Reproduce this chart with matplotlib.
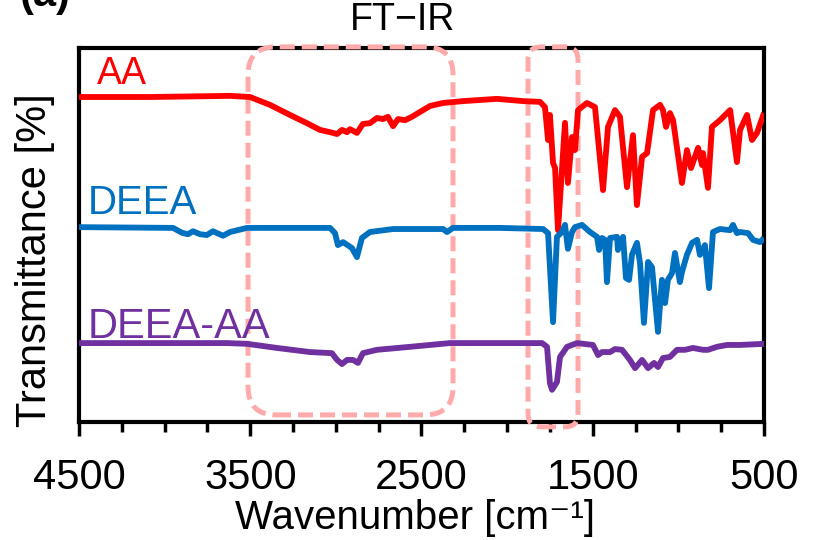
import matplotlib
matplotlib.use("Agg")
import matplotlib.pyplot as plt
from matplotlib.patches import FancyBboxPatch
from matplotlib.transforms import IdentityTransform
from matplotlib.ticker import MultipleLocator

plt.rcParams['font.family'] = ['Liberation Sans', 'DejaVu Sans']

# ---- data ----
aa_wn = [4500, 4085, 3618, 3502, 3385, 3268, 3169, 3093, 3034, 2993, 2964, 2935, 2918, 2877,
         2842, 2801, 2760, 2725, 2696, 2666, 2637, 2596, 2556, 2509, 2450, 2374, 2258, 2059,
         1907, 1808, 1779, 1761, 1750, 1732, 1720, 1703, 1662, 1645, 1621, 1604, 1586, 1534,
         1487, 1440, 1411, 1370, 1341, 1300, 1265, 1242, 1212, 1183, 1148, 1107, 1090, 1072,
         1049, 1031, 979, 950, 926, 885, 862, 856, 827, 804, 757, 698, 658, 640, 599, 570,
         541, 500]
aa_t = [86.9, 86.9, 87.2, 86.9, 84.8, 82.1, 79.9, 78.1, 77.5, 77.0, 78.1, 77.5, 78.3, 77.3,
        79.7, 79.9, 81.3, 81.0, 81.6, 79.1, 81.0, 80.7, 81.6, 82.9, 84.5, 85.3, 85.8, 86.4,
        85.8, 85.6, 84.2, 75.4, 82.1, 69.3, 67.9, 51.3, 80.0, 63.9, 76.2, 72.7, 83.4, 85.3,
        84.2, 62.0, 78.9, 83.4, 81.6, 62.8, 76.7, 58.0, 70.9, 71.9, 83.4, 84.8, 83.4, 78.9,
        82.6, 80.7, 63.9, 72.7, 67.9, 73.3, 68.7, 71.9, 62.6, 78.9, 80.7, 83.4, 69.5, 78.1,
        82.1, 75.4, 77.3, 82.6]

deea_wn = [4500, 3951, 3899, 3864, 3834, 3793, 3753, 3718, 3659, 3618, 3519, 3034, 3005,
           2988, 2958, 2906, 2877, 2848, 2801, 2666, 2374, 2351, 2316, 2042, 1790, 1761,
           1732, 1709, 1680, 1662, 1645, 1621, 1604, 1563, 1516, 1475, 1463, 1446, 1428,
           1417, 1399, 1358, 1353, 1323, 1306, 1288, 1271, 1242, 1224, 1201, 1177, 1154,
           1119, 1096, 1078, 1061, 1037, 1020, 991, 979, 950, 920, 891, 874, 845, 821, 798,
           757, 698, 681, 658, 640, 593, 564, 523, 500]
deea_t = [52.1, 51.9, 50.6, 50.2, 51.0, 50.2, 50.0, 51.0, 49.8, 50.8, 51.9, 51.9, 50.5,
          47.3, 48.1, 46.5, 44.1, 49.2, 50.8, 51.6, 51.6, 50.8, 51.9, 51.9, 51.6, 50.5,
          26.7, 49.5, 50.8, 52.7, 46.3, 50.8, 52.1, 52.7, 50.8, 49.5, 46.0, 49.2, 48.7,
          37.4, 49.2, 49.5, 46.0, 49.5, 38.5, 38.0, 44.7, 47.9, 42.5, 26.5, 42.8, 41.4,
          24.1, 38.0, 31.8, 38.0, 39.8, 45.2, 37.4, 40.1, 44.7, 47.9, 48.7, 44.7, 47.3,
          35.8, 50.8, 51.6, 51.3, 52.7, 50.5, 50.8, 50.5, 48.7, 48.1, 49.2]

mix_wn = [4500, 3636, 3519, 3344, 3151, 3023, 2993, 2964, 2935, 2900, 2871, 2842, 2760,
          2567, 2334, 2042, 1796, 1767, 1750, 1738, 1709, 1691, 1650, 1592, 1499, 1469,
          1446, 1399, 1370, 1329, 1283, 1253, 1212, 1177, 1142, 1119, 1090, 1049, 1008,
          961, 915, 856, 827, 775, 716, 640, 500]
mix_t = [21.1, 21.1, 20.9, 19.8, 18.7, 18.4, 16.6, 15.5, 16.6, 16.6, 15.8, 18.4, 19.3,
         20.1, 21.1, 21.1, 21.1, 20.1, 10.4, 8.6, 10.7, 17.4, 20.1, 21.1, 20.6, 17.9,
         18.7, 18.7, 19.5, 19.3, 16.6, 14.4, 16.6, 14.4, 15.8, 14.7, 17.1, 17.4, 19.3,
         19.3, 19.8, 19.3, 19.3, 20.1, 20.6, 20.6, 20.9]

series_names = ["AA", "DEEA", "DEEA-AA"]
series_colors = ["#FF0000", "#0070C0", "#7030A0"]

x_ticks = [4500, 3500, 2500, 1500, 500]
x_ticklabels = ["4500", "3500", "2500", "1500", "500"]

# highlighted regions (wavenumber range, transmittance range)
boxes = [((3513, 2316), (100.3, 1.9), 28),
         ((1878, 1586), (100.3, -1.3), 13)]

# ---- figure ----
W, H = 818, 540
fig = plt.figure(figsize=(W / 100, H / 100), dpi=100)
ax = fig.add_axes([79 / W, 1 - 422 / H, 685 / W, 374 / H])

for wn, t, c in zip([aa_wn, deea_wn, mix_wn], [aa_t, deea_t, mix_t], series_colors):
    ax.plot(wn, t, color=c, lw=4.2, solid_joinstyle='round', solid_capstyle='butt', zorder=3)

ax.set_xlim(4500, 500)
ax.set_ylim(0, 100)
ax.set_xticks(x_ticks)
ax.set_xticklabels(x_ticklabels)
ax.xaxis.set_minor_locator(MultipleLocator(250))
ax.set_yticks([])
ax.tick_params(axis='x', which='major', direction='out', length=10, width=2.5,
               labelsize=30, pad=16)
ax.tick_params(axis='x', which='minor', direction='out', length=7, width=2.5)
for s in ax.spines.values():
    s.set_linewidth(3)
    s.set_zorder(2.5)

# labels
label_pos = [(4395, 90.5), (4450, 55.5), (4450, 22.5)]
label_sizes = [27, 29, 30]
for name, c, (xx, yy), fs in zip(series_names, series_colors, label_pos, label_sizes):
    ax.text(xx, yy, name, color=c, fontsize=fs, ha='left', va='baseline', zorder=4)

fig.text(403 / W, 1 - 20 / H, "FT\u2212IR", fontsize=27, ha='center', va='center')
fig.text(415 / W, 1 - 518 / H, "Wavenumber [cm\u207b\u00b9]", fontsize=29,
         ha='center', va='center')
fig.text(35 / W, 1 - 260 / H, "Transmittance [%]", fontsize=30, rotation=90,
         ha='center', va='center')
fig.text(20 / W, 1 - 6 / H, "(a)", fontsize=30, fontweight='bold', ha='left', va='baseline')

# boxes in display coords
fig.canvas.draw()
for (x0, x1), (y0, y1), r in boxes:
    (px0, py0) = ax.transData.transform((x0, y1))
    (px1, py1) = ax.transData.transform((x1, y0))
    patch = FancyBboxPatch((px0, py0), px1 - px0, py1 - py0,
                           boxstyle=f"round,pad=0,rounding_size={r}",
                           transform=IdentityTransform(), fill=False,
                           edgecolor='#FFAAAA', lw=3.6, linestyle=(0, (3, 1.4)),
                           clip_on=False, zorder=2.7)
    ax.add_patch(patch)

fig.savefig("out.png", dpi=100)
